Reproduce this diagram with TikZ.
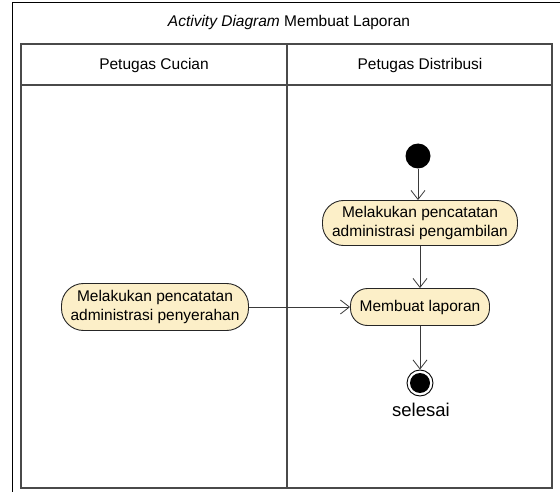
\documentclass[tikz,border=0pt]{standalone}
\usepackage{fontspec}
\setmainfont{Liberation Sans}
\usetikzlibrary{arrows.meta}
\definecolor{actfill}{HTML}{FCEFC8}
\definecolor{lanegray}{HTML}{4A4A4A}
\definecolor{flowgray}{HTML}{3A3A3A}
\begin{document}
\begin{tikzpicture}[x=1pt,y=-1pt,
  every node/.style={font=\fontsize{15.5}{18.5}\selectfont},
  action/.style={draw=black!85, line width=0.9pt, fill=actfill, align=center, inner sep=0pt},
  flow/.style={draw=flowgray, line width=0.8pt, -{Straight Barb[length=9pt,width=14pt,line width=0.8pt]}},
  lane/.style={draw=lanegray, line width=1.6pt}]
\useasboundingbox (0,0) rectangle (560,492);
\fill[white] (0,0) rectangle (560,492);
% outer frame
\draw[black, line width=1pt] (12,500) -- (12,3) -- (570,3);
\node (title) at (289,22) {\textit{Activity Diagram} Membuat Laporan};
% swimlanes
\draw[lane] (21,44) rectangle (552,488);
\draw[lane] (21,85) -- (552,85);
\draw[lane] (287,44) -- (287,488);
\node (lane1) at (154,65) {Petugas Cucian};
\node (lane2) at (420,65) {Petugas Distribusi};
% nodes
\node[circle, fill=black, minimum size=25pt, inner sep=0pt] (start) at (418,156) {};
\node[action, rounded corners=21pt, minimum width=195pt, minimum height=45pt] (a1) at (420,223) {Melakukan pencatatan\\administrasi pengambilan};
\node[action, rounded corners=22pt, minimum width=187pt, minimum height=47pt] (a0) at (155,307) {Melakukan pencatatan\\administrasi penyerahan};
\node[action, rounded corners=17pt, minimum width=139pt, minimum height=37pt] (a2) at (420,307) {Membuat laporan};
\node[circle, draw=black, line width=0.9pt, fill=white, minimum size=26pt, inner sep=0pt] (end) at (420,383) {};
\node[circle, fill=black, minimum size=20pt, inner sep=0pt] (endin) at (end) {};
\node[font=\fontsize{18.5}{22}\selectfont] (endlbl) at (421,410) {selesai};
% flows
\draw[flow] (start) -- (start |- a1.north);
\draw[flow] (a1) -- (a2);
\draw[flow] (a0) -- (a2);
\draw[flow] (a2) -- (end);
\end{tikzpicture}
\end{document}
